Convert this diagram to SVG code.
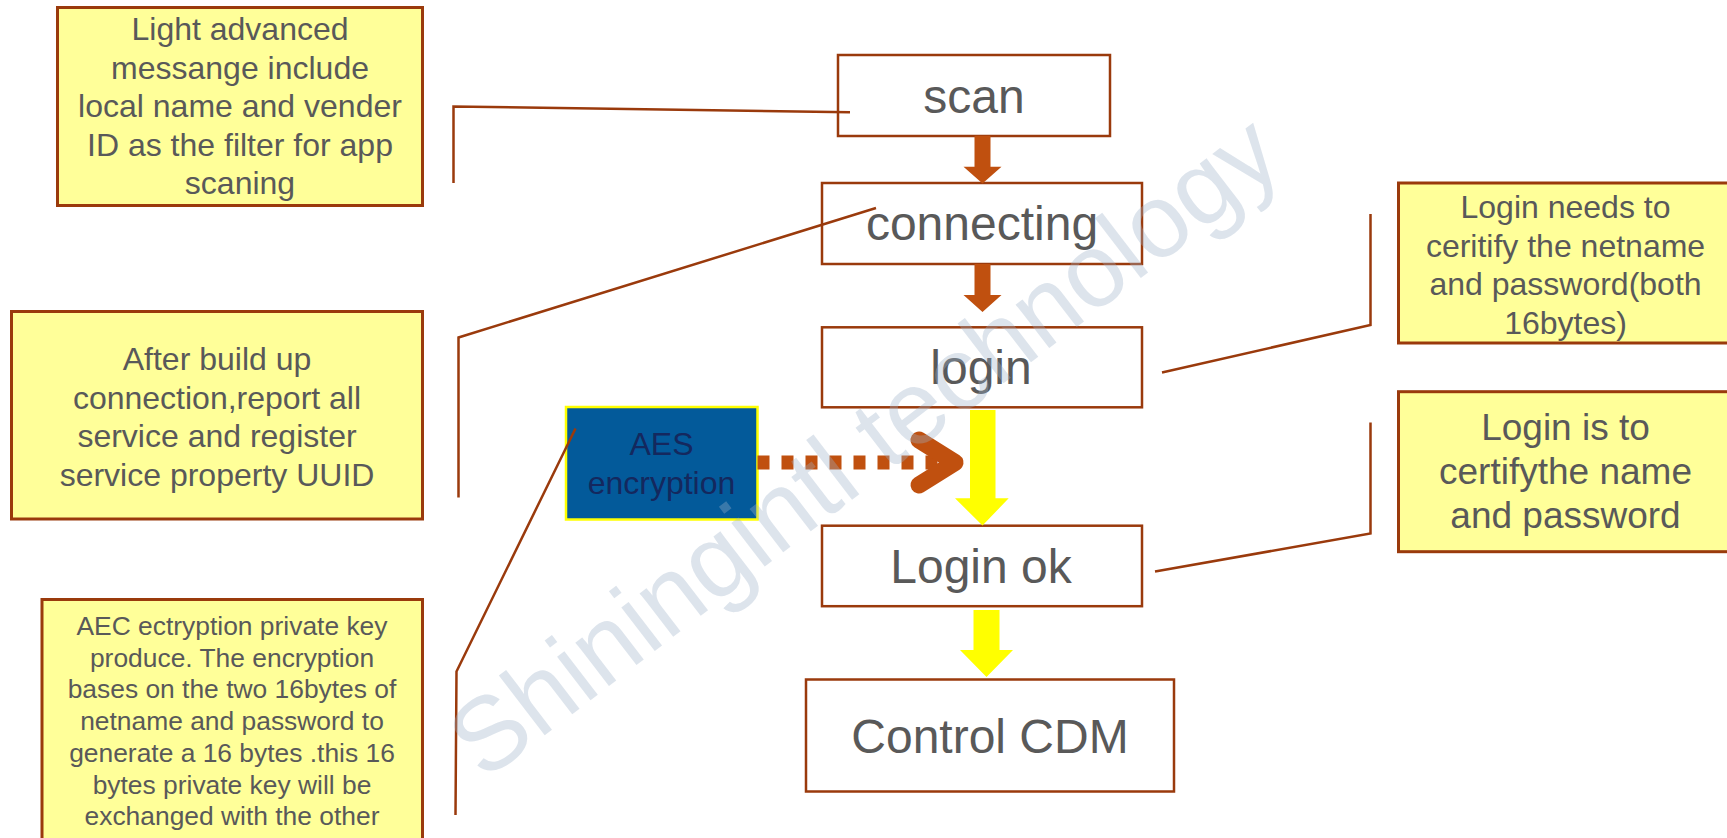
<svg xmlns="http://www.w3.org/2000/svg" width="1727" height="838" viewBox="0 0 1727 838">
<style>
.note{fill:#FFFF99;stroke:#9A3A0C;stroke-width:3}
.step{fill:#FFFFFF;stroke:#9A3A0C;stroke-width:2.5}
.t{font-family:"Liberation Sans",Arial,sans-serif;fill:#595959;text-anchor:middle}
.n32{font-size:32px}
.n26{font-size:26.4px}
.n37{font-size:37px}
.big{font-size:48px}
.conn{fill:none;stroke:#9A3A0C;stroke-width:2.5}
.barrow{fill:#C0500F}
.yarrow{fill:#FFFF00}
</style>
<rect width="1727" height="838" fill="#FFFFFF"/>

<g id="note-scan">
<rect class="note" x="57.5" y="7.5" width="365" height="198"/>
<text class="t n32" x="240"><tspan x="240" y="40">Light advanced</tspan><tspan x="240" y="78.5">messange include</tspan><tspan x="240" y="117">local name and vender</tspan><tspan x="240" y="155.5">ID as the filter for app</tspan><tspan x="240" y="194">scaning</tspan></text>
</g>

<g id="note-connect">
<rect class="note" x="11.5" y="311.5" width="411" height="207.5"/>
<text class="t n32"><tspan x="217" y="370">After build up</tspan><tspan x="217" y="408.5">connection,report all</tspan><tspan x="217" y="447">service and register</tspan><tspan x="217" y="485.5">service property UUID</tspan></text>
</g>

<g id="note-aes">
<rect class="note" x="42" y="599.5" width="380.5" height="270"/>
<text class="t n26"><tspan x="232" y="635">AEC ectryption private key</tspan><tspan x="232" y="666.7">produce. The encryption</tspan><tspan x="232" y="698.4">bases on the two 16bytes of</tspan><tspan x="232" y="730">netname and password to</tspan><tspan x="232" y="761.8">generate a 16 bytes .this 16</tspan><tspan x="232" y="793.5">bytes private key will be</tspan><tspan x="232" y="825.2">exchanged with the other</tspan></text>
</g>

<g id="note-login">
<rect class="note" x="1398.5" y="183" width="340" height="160"/>
<text class="t n32"><tspan x="1565.5" y="218">Login needs to</tspan><tspan x="1565.5" y="256.5">ceritify the netname</tspan><tspan x="1565.5" y="295">and password(both</tspan><tspan x="1565.5" y="333.5">16bytes)</tspan></text>
</g>

<g id="note-loginok">
<rect class="note" x="1398.5" y="391.7" width="340" height="160"/>
<text class="t n37"><tspan x="1565.5" y="440">Login is to</tspan><tspan x="1565.5" y="484">certifythe name</tspan><tspan x="1565.5" y="528">and password</tspan></text>
</g>

<g id="scan">
<rect class="step" x="838" y="55" width="272" height="81"/>
<text class="t big" x="974" y="113">scan</text>
</g>

<g id="connecting">
<rect class="step" x="822" y="183" width="320" height="81"/>
<text class="t big" x="982" y="240">connecting</text>
</g>

<g id="login">
<rect class="step" x="822" y="327.3" width="320" height="80"/>
<text class="t big" x="981" y="384">login</text>
</g>

<g id="login-ok">
<rect class="step" x="822" y="525.7" width="320" height="80.5"/>
<text class="t big" x="981" y="583">Login ok</text>
</g>

<g id="control-cdm">
<rect class="step" x="806" y="679.5" width="368" height="112"/>
<text class="t big" x="990" y="753">Control CDM</text>
</g>

<g id="aes">
<rect x="566" y="407" width="191.5" height="112.5" fill="#035A9A" stroke="#FFFF00" stroke-width="2.5"/>
<text class="t n32" style="fill:#14285E"><tspan x="661.5" y="455">AES</tspan><tspan x="661.5" y="494">encryption</tspan></text>
</g>

<g id="connectors">
<polygon class="barrow" points="974.5,135.7 990.5,135.7 990.5,166.7 1001.5,166.7 982.5,183.5 963.5,166.7 974.5,166.7"/>
<polygon class="barrow" points="974.5,264 990.5,264 990.5,295 1001.5,295 982.5,312 963.5,295 974.5,295"/>
<polygon class="yarrow" points="970,410 995.5,410 995.5,498.3 1008.7,498.3 982.5,525.5 955,498.3 970,498.3"/>
<polygon class="yarrow" points="973.5,610 999.5,610 999.5,650 1013,650 986.5,677 960,650 973.5,650"/>
<line x1="757.5" y1="462.5" x2="945" y2="462.5" stroke="#C0500F" stroke-width="14" stroke-dasharray="12 12"/>
<path d="M919,440 L955,462.5 L919,485" fill="none" stroke="#C0500F" stroke-width="17" stroke-linecap="round" stroke-linejoin="round"/>
<polyline class="conn" points="453.5,183 453.5,106.5 850,112.3"/>
<polyline class="conn" points="876,208 458.5,337.5 458.5,497.5"/>
<polyline class="conn" points="575.5,428.5 456.5,671.5 455.5,815"/>
<polyline class="conn" points="1162,372.5 1370.5,325 1370.5,214"/>
<polyline class="conn" points="1155,571.5 1370.5,533.5 1370.5,422.5"/>
</g>

<text id="watermark" x="484" y="782" transform="rotate(-37.5 484 782)" font-family="'Liberation Sans',Arial,sans-serif" font-size="104" fill="#9DB2C8" fill-opacity="0.35">Shiningintl technology</text>
</svg>
